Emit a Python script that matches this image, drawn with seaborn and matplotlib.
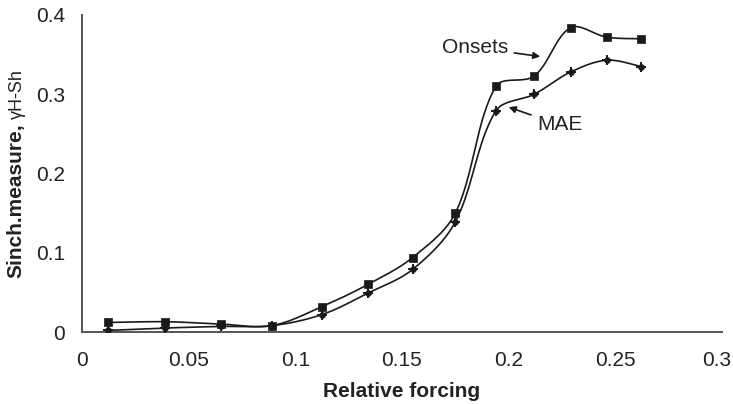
import numpy as np
import pandas as pd
import matplotlib
matplotlib.use("Agg")
import matplotlib.pyplot as plt
import matplotlib.transforms as mtransforms
import seaborn as sns

# Relative forcing levels and the two synchronization measures
forcing = [0.0123, 0.039, 0.065, 0.089, 0.1125, 0.134, 0.155, 0.175, 0.194, 0.212, 0.229, 0.246, 0.262]
onsets = [0.012, 0.013, 0.010, 0.008, 0.032, 0.060, 0.094, 0.150, 0.310, 0.323, 0.384, 0.372, 0.370]
mae = [0.002, 0.005, 0.007, 0.008, 0.022, 0.049, 0.079, 0.139, 0.279, 0.300, 0.328, 0.343, 0.335]

x_ticks = [0, 0.05, 0.1, 0.15, 0.2, 0.25, 0.3]
x_tick_labels = ["0", "0.05", "0.1", "0.15", "0.2", "0.25", "0.3"]
y_ticks = [0, 0.1, 0.2, 0.3, 0.4]
y_tick_labels = ["0", "0.1", "0.2", "0.3", "0.4"]

# plot box in pixels: left, bottom(from top), width, height
BOX = (82, 332, 640, 317)
XMAX, YMAX = 0.3, 0.4


def smooth(x, y, n=40):
    """Smoothed polyline through the points: cubic Bezier segments whose
    tangents are weighted by neighbouring segment lengths on screen."""
    sx = BOX[2] / XMAX
    sy = BOX[3] / YMAX
    p = np.column_stack([np.asarray(x) * sx, np.asarray(y) * sy]).astype(float)
    ext = np.vstack([p[0], p, p[-1]])
    t = np.linspace(0, 1, n)[:, None]
    out = []
    for i in range(len(p) - 1):
        p0, p1, p2, p3 = ext[i], ext[i + 1], ext[i + 2], ext[i + 3]
        d01 = np.linalg.norm(p1 - p0)
        d12 = np.linalg.norm(p2 - p1)
        d23 = np.linalg.norm(p3 - p2)
        w1 = d12 / (d01 + d12) if d01 > 0 else 0.5
        w2 = d12 / (d12 + d23) if d23 > 0 else 0.5
        b1 = p1 + (p2 - p0) * w1 / 3
        b2 = p2 - (p3 - p1) * w2 / 3
        seg = ((1 - t) ** 3) * p1 + 3 * ((1 - t) ** 2) * t * b1 + 3 * (1 - t) * t ** 2 * b2 + t ** 3 * p2
        out.append(seg if i == 0 else seg[1:])
    c = np.vstack(out)
    return c[:, 0] / sx, c[:, 1] / sy


points = pd.concat([
    pd.DataFrame({"forcing": forcing, "value": onsets, "series": "Onsets"}),
    pd.DataFrame({"forcing": forcing, "value": mae, "series": "MAE"}),
], ignore_index=True)

curves = []
for name, grp in points.groupby("series", sort=False):
    cx, cy = smooth(grp["forcing"].to_numpy(), grp["value"].to_numpy())
    curves.append(pd.DataFrame({"forcing": cx, "value": cy, "series": name}))
curves = pd.concat(curves, ignore_index=True)

sns.set_theme(style="white")
plt.rcParams["font.family"] = ["Liberation Sans", "DejaVu Sans"]

fig = plt.figure(figsize=(7.33, 4.04), dpi=100)
ax = fig.add_axes([BOX[0] / 733, 1 - BOX[1] / 404, BOX[2] / 733, BOX[3] / 404])

ink = "#1a1a1a"
sns.lineplot(data=curves, x="forcing", y="value", units="series", estimator=None,
             sort=False, color=ink, linewidth=1.2, ax=ax, legend=False)

on_pts = points[points["series"] == "Onsets"]
mae_pts = points[points["series"] == "MAE"]
sns.scatterplot(data=on_pts, x="forcing", y="value", marker="s", s=30, color=ink,
                edgecolor=ink, linewidth=0.5, ax=ax, legend=False, zorder=3)
sns.scatterplot(data=mae_pts, x="forcing", y="value", marker="o", s=18, color=ink,
                edgecolor=ink, linewidth=0.5, ax=ax, legend=False, zorder=3)
sns.scatterplot(data=mae_pts, x="forcing", y="value", marker="+", s=55, color=ink,
                linewidth=1.4, ax=ax, legend=False, zorder=3)

ax.set_xlim(0, XMAX)
ax.set_ylim(0, YMAX)
ax.set_xticks(x_ticks)
ax.set_xticklabels(x_tick_labels)
ax.set_yticks(y_ticks)
ax.set_yticklabels(y_tick_labels)

axis_gray = "#555555"
for side in ("top", "right"):
    ax.spines[side].set_visible(False)
for side in ("left", "bottom"):
    ax.spines[side].set_color(axis_gray)
    ax.spines[side].set_linewidth(1.4)
ax.tick_params(axis="both", which="major", direction="out", length=6, width=1.4,
               color=axis_gray, labelsize=15, labelcolor="#222222", pad=6)
ax.tick_params(axis="x", pad=8)

# keep the last x tick label inside the figure edge
last = ax.get_xticklabels()[-1]
last.set_transform(last.get_transform() +
                   mtransforms.ScaledTranslation(-5 / 100, 0, fig.dpi_scale_trans))

ax.set_xlabel("Relative forcing", fontsize=15, fontweight="bold", color="#222222", labelpad=8)
ax.set_ylabel("")

# y axis title: bold measure name followed by a smaller regular symbol
fig.canvas.draw()
renderer = fig.canvas.get_renderer()
label_x = 16 / 733
t1 = fig.text(label_x, 0, "Sinch.measure,", rotation=90, fontsize=15, fontweight="bold",
              color="#222222", ha="center", va="bottom")
t2 = fig.text(label_x, 0, "\u03b3H-Sh", rotation=90, fontsize=13, color="#222222",
              ha="center", va="bottom")
h1 = t1.get_window_extent(renderer).height
h2 = t2.get_window_extent(renderer).height
gap = 5
total = h1 + gap + h2
center_px = 404 - (15 + 332) / 2
start = center_px - total / 2
t1.set_position((label_x, start / 404))
t2.set_position((label_x + 1.0 / 733, (start + h1 + gap) / 404))

# callouts for the two curves
ax.annotate("Onsets", xy=(0.2148, 0.3476), xytext=(0.1998, 0.359),
            fontsize=15, color="#222222", ha="right", va="center",
            arrowprops=dict(arrowstyle="-|>", color=ink, lw=1.2, mutation_scale=10,
                            shrinkA=2, shrinkB=0))
ax.annotate("MAE", xy=(0.2000, 0.2837), xytext=(0.2133, 0.2614),
            fontsize=15, color="#222222", ha="left", va="center",
            arrowprops=dict(arrowstyle="-|>", color=ink, lw=1.2, mutation_scale=10,
                            shrinkA=2, shrinkB=0))

fig.savefig("out.png", dpi=100)
